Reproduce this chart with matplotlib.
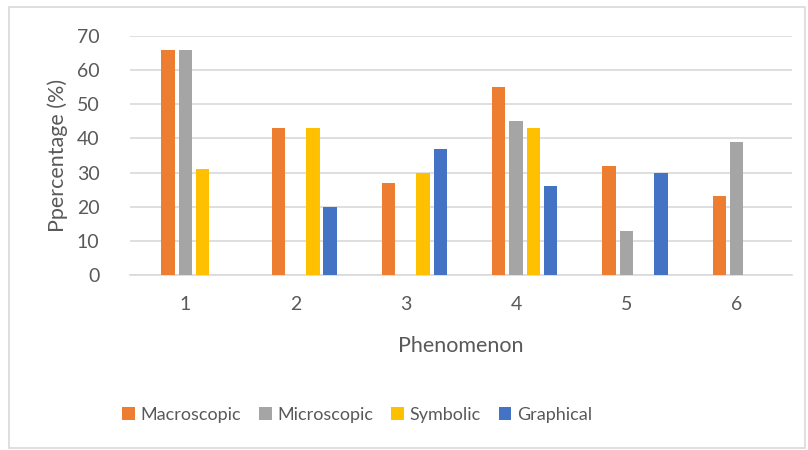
import numpy as np
import matplotlib.pyplot as plt
from matplotlib.patches import Rectangle

phenomena = ["1", "2", "3", "4", "5", "6"]
series_names = ["Macroscopic", "Microscopic", "Symbolic", "Graphical"]
macroscopic = [66, 43, 27, 55, 32, 23]
microscopic = [66, 0, 0, 45, 13, 39]
symbolic = [31, 43, 30, 43, 0, 0]
graphical = [0, 20, 37, 26, 30, 0]
colors = ["#ED7D31", "#A5A5A5", "#FFC000", "#4472C4"]

plt.rcParams["font.family"] = ["Lato", "DejaVu Sans"]
text_col = "#595959"

fig = plt.figure(figsize=(8.08, 4.5), dpi=100)
ax = fig.add_axes([0.161, 0.389, 0.819, 0.531])

x = np.arange(len(phenomena))
step = 0.157
width = 0.121
for i, (name, vals) in enumerate(zip(series_names, [macroscopic, microscopic, symbolic, graphical])):
    # excel layout leaves an empty first slot, so groups sit off-centre
    offset = (i + 1 - 2) * step
    ax.bar(x + offset, vals, width, color=colors[i], label=name, zorder=3)

ax.set_xlim(-0.5, len(phenomena) - 0.5)
ax.set_ylim(0, 70)
ax.set_yticks(range(0, 71, 10))
ax.set_xticks(x)
ax.set_xticklabels(phenomena)
ax.yaxis.grid(True, color="#D9D9D9", linewidth=1.2, zorder=0)
for s in ["top", "right", "left"]:
    ax.spines[s].set_visible(False)
ax.spines["bottom"].set_color("#D9D9D9")
ax.spines["bottom"].set_linewidth(1.2)
ax.tick_params(length=0, labelsize=14, colors=text_col)
ax.tick_params(axis="x", pad=15)
ax.tick_params(axis="y", pad=22)

ax.set_ylabel("Ppercentage (%)", fontsize=15.5, color=text_col, labelpad=6)
ax.set_xlabel("Phenomenon", fontsize=15.5, color=text_col, labelpad=17)

fig.legend(loc="center", bbox_to_anchor=(0.442, 0.078), ncol=4, frameon=False,
           fontsize=13, labelcolor=text_col, handlelength=0.7, handleheight=0.7,
           handletextpad=0.3, columnspacing=1.0)

fig.patches.append(Rectangle((9 / 808, 2 / 450), 796 / 808, 441 / 450,
                             transform=fig.transFigure, fill=False,
                             edgecolor="#D9D9D9", linewidth=1.2))

fig.savefig("out.png", dpi=100)
